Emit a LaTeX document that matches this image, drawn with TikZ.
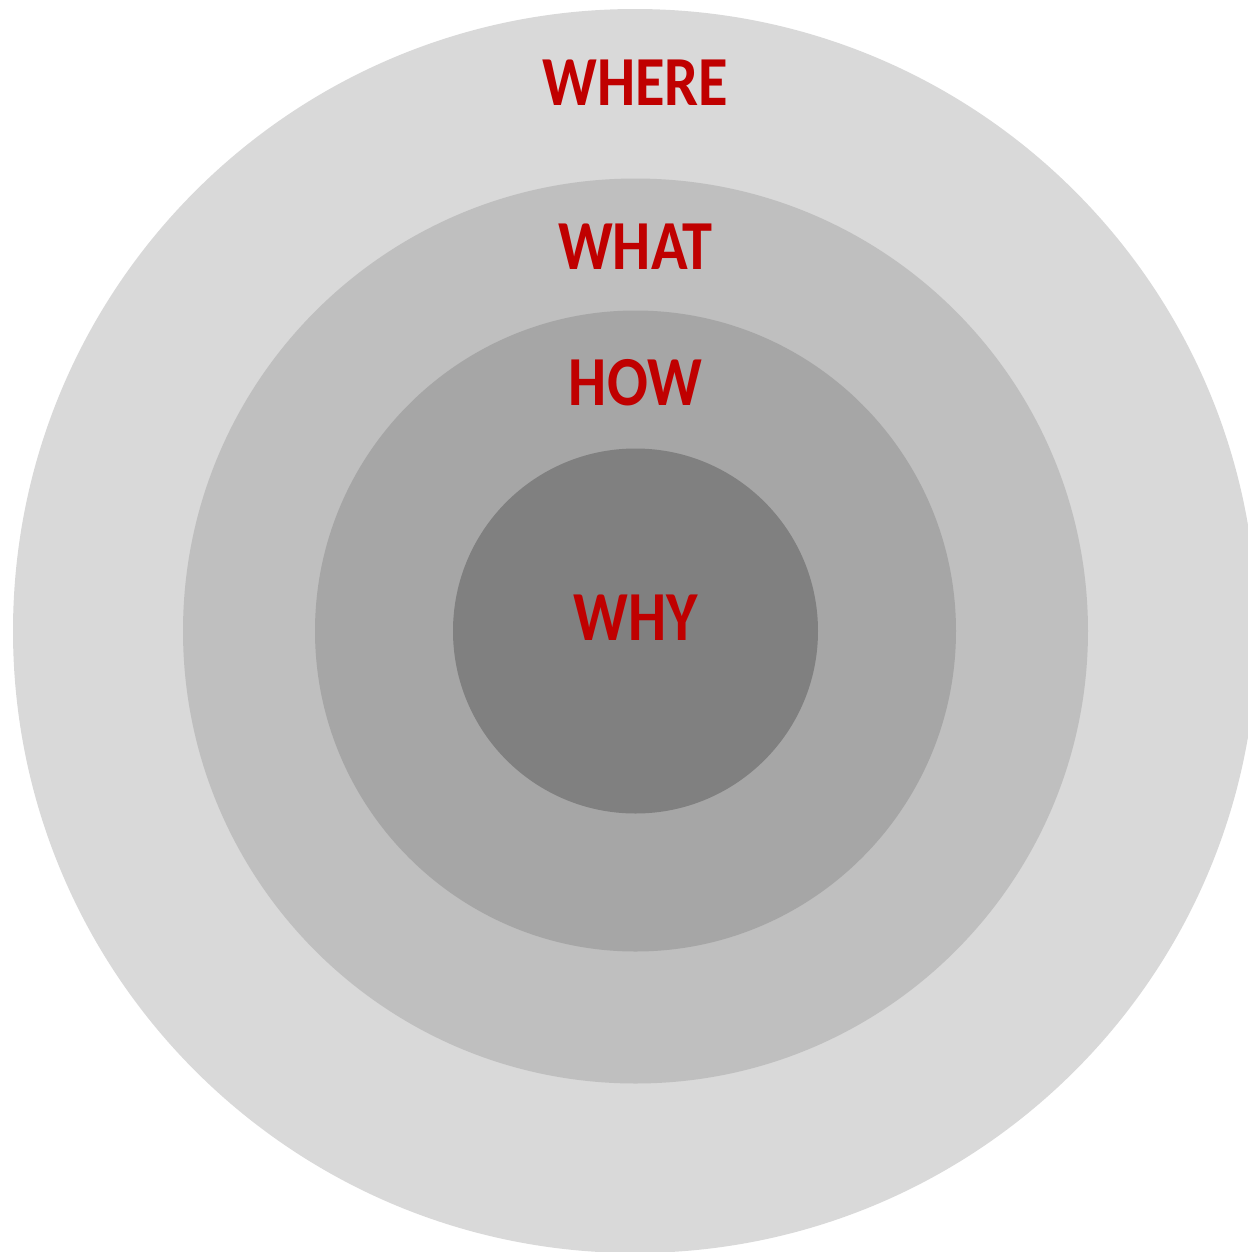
\documentclass[tikz,border=0pt]{standalone}
\usepackage{fontspec}
\usepackage{tikz}
\newfontfamily\ringfont[FakeStretch=0.86]{Carlito}
\definecolor{rgwhere}{HTML}{D9D9D9}
\definecolor{rgwhat}{HTML}{BFBFBF}
\definecolor{rghow}{HTML}{A6A6A6}
\definecolor{rgwhy}{HTML}{808080}
\definecolor{rgred}{HTML}{C00000}
\tikzset{
  rgdisc/.style={circle, draw=none, inner sep=0pt, minimum size=#1},
  rglabel/.style={font=\ringfont\bfseries\fontsize{20}{24}\selectfont, text=rgred, inner sep=0pt}
}

\begin{document}
\begin{tikzpicture}
  \useasboundingbox (0,0) rectangle (12.48,-12.52);
  \clip (0,0) rectangle (12.48,-12.52);
  \node[rgdisc=12.44cm, fill=rgwhere] (where) at (6.35,-6.31) {};
  \node[rgdisc=9.05cm, fill=rgwhat] (what) at (6.355,-6.31) {};
  \node[rgdisc=6.41cm, fill=rghow] (how) at (6.355,-6.31) {};
  \node[rgdisc=3.65cm, fill=rgwhy] (why) at (6.355,-6.31) {};
  \node[rglabel] (wherelabel) at (6.355,-0.825) {WHERE};
  \node[rglabel] (whatlabel) at (6.355,-2.47) {WHAT};
  \node[rglabel] (howlabel) at (6.355,-3.83) {HOW};
  \node[rglabel] (whylabel) at (6.355,-6.175) {WHY};
\end{tikzpicture}
\end{document}
